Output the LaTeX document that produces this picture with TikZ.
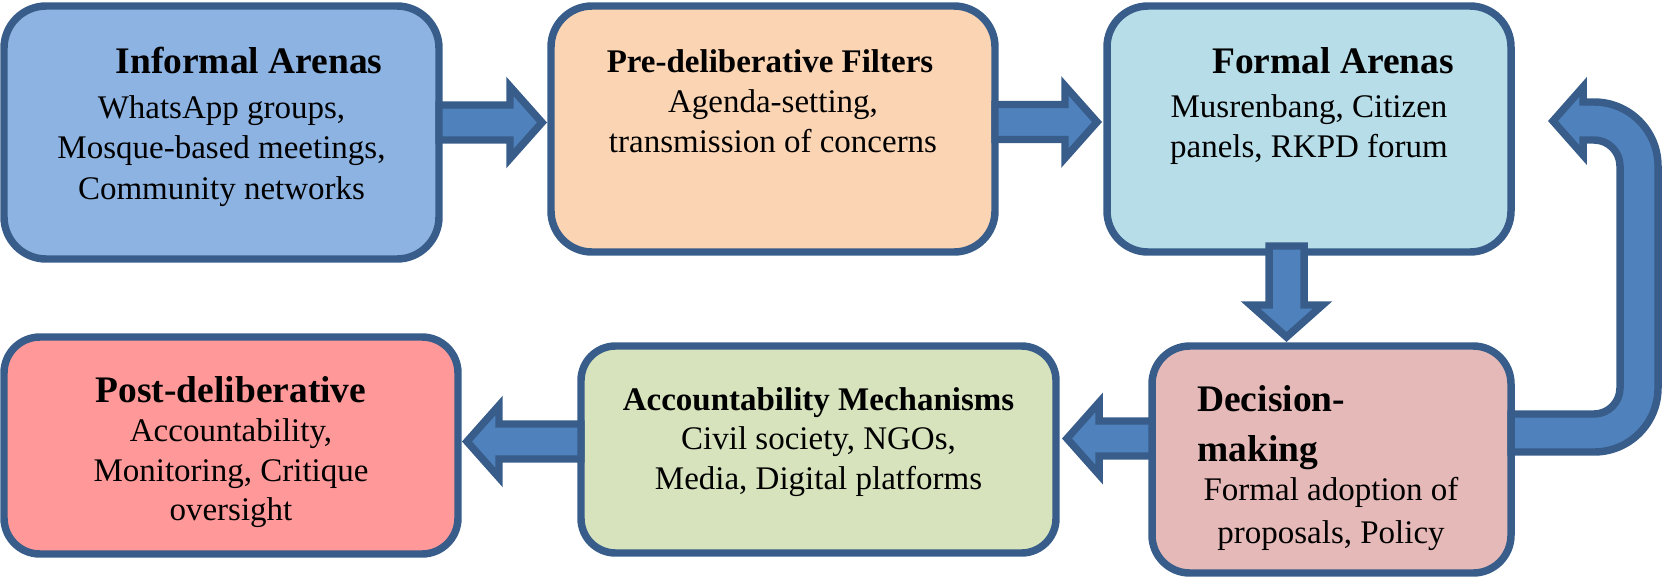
\documentclass[tikz,border=0pt]{standalone}
\usepackage{fontspec}
\setmainfont{Liberation Serif}
\usetikzlibrary{calc}
\definecolor{bordc}{HTML}{385D8A}
\definecolor{arrowc}{HTML}{4F81BD}
\definecolor{cone}{HTML}{8DB3E2}
\definecolor{ctwo}{HTML}{FBD4B4}
\definecolor{cthree}{HTML}{B6DDE8}
\definecolor{cfour}{HTML}{FF9999}
\definecolor{cfive}{HTML}{D7E3BC}
\definecolor{csix}{HTML}{E5B9B7}
\tikzset{
  box/.style={draw=bordc, line width=5.6pt, rectangle, outer sep=0pt, inner sep=0pt},
  barrow/.style={draw=bordc, fill=arrowc, line width=5.6pt, line join=miter},
  ttl/.style={inner sep=0pt, anchor=base, font=\fontsize{28.1pt}{32pt}\selectfont\bfseries},
  ttls/.style={inner sep=0pt, anchor=base, font=\fontsize{24.75pt}{29pt}\selectfont\bfseries},
  bdy/.style={inner sep=0pt, anchor=base, font=\fontsize{24.75pt}{29pt}\selectfont},
}
% horizontal block arrow: #1 start, #2 tip, #3 signed head length offset
\newcommand\blkh[3]{\draw[barrow] ($(#1)+(0,-17.5)$) -- ($(#2)+(#3,-17.5)$) -- ($(#2)+(#3,-36)$) -- (#2) -- ($(#2)+(#3,36)$) -- ($(#2)+(#3,17.5)$) -- ($(#1)+(0,17.5)$) -- cycle;}
% vertical block arrow
\newcommand\blkv[3]{\draw[barrow] ($(#1)+(-17.5,0)$) -- ($(#2)+(-17.5,#3)$) -- ($(#2)+(-36,#3)$) -- (#2) -- ($(#2)+(36,#3)$) -- ($(#2)+(17.5,#3)$) -- ($(#1)+(17.5,0)$) -- cycle;}
\begin{document}
\begin{tikzpicture}[x=0.75pt,y=-0.75pt]
\useasboundingbox (0,0) rectangle (1662,579);
% boxes
\node[box, fill=cone,   minimum width=326.25pt, minimum height=189.75pt, rounded corners=31.6pt] (b1) at (221.5,132.5) {};
\node[box, fill=ctwo,   minimum width=333pt,    minimum height=184.5pt,  rounded corners=30.75pt] (b2) at (773,129) {};
\node[box, fill=cthree, minimum width=303pt,    minimum height=184.5pt,  rounded corners=30.75pt] (b3) at (1309,129) {};
\node[box, fill=cfour,  minimum width=340.5pt,  minimum height=162.75pt, rounded corners=27pt] (b4) at (231,445.5) {};
\node[box, fill=cfive,  minimum width=356.25pt, minimum height=155.25pt, rounded corners=25.9pt] (b5) at (818.5,449.5) {};
\node[box, fill=csix,   minimum width=269.25pt, minimum height=170.25pt, rounded corners=28.4pt] (b6) at (1331.5,459.5) {};
% arrow anchor points
\coordinate (a1s) at ($(b1.east)+(0,-10)$);
\coordinate (a1t) at ($(b2.west)+(-9,-6.5)$);
\coordinate (a2s) at ($(b2.east)+(0,-7)$);
\coordinate (a2t) at ($(b3.west)+(-10,-7)$);
\coordinate (a3s) at ($(b3.south)+(-22.5,-6)$);
\coordinate (a3t) at ($(b6.north)+(-45,-9)$);
\coordinate (a4s) at ($(b6.west)+(0,-21)$);
\coordinate (a4t) at ($(b5.east)+(11,-11)$);
\coordinate (a5s) at ($(b5.west)+(0,-8)$);
\coordinate (a5t) at ($(b4.east)+(9,-4)$);
\coordinate (cs) at ($(b6.east)+(0,-26.5)$);
\coordinate (ct) at ($(b3.east)+(42,-8)$);
% arrows
\blkh{a1s}{a1t}{-32}
\blkh{a2s}{a2t}{-32}
\blkv{a3s}{a3t}{-32}
\blkh{a4s}{a4t}{32}
\blkh{a5s}{a5t}{32}
\draw[barrow] ($(cs)+(0,-19)$) -- ($(cs)+(83,-19)$) arc[start angle=90, end angle=0, radius=26]
  -- ($(ct)+(67,45)$) arc[start angle=0, end angle=-90, radius=26]
  -- ($(ct)+(30,19)$) -- ($(ct)+(30,34)$) -- (ct) -- ($(ct)+(30,-34)$) -- ($(ct)+(30,-19)$)
  -- ($(ct)+(41,-19)$) arc[start angle=-90, end angle=0, radius=64]
  -- ($(cs)+(147,-45)$) arc[start angle=0, end angle=90, radius=64]
  -- ($(cs)+(0,19)$) -- cycle;
% texts
\node[ttl] (t11) at (249,73) {Informal Arenas};
\node[bdy] (t12) at (221.5,118) {WhatsApp groups,};
\node[bdy] (t13) at (221.5,158) {Mosque-based meetings,};
\node[bdy] (t14) at (221.5,199) {Community networks};
\node[ttls] (t21) at (770,72) {Pre-deliberative Filters};
\node[bdy] (t22) at (773,112) {Agenda-setting,};
\node[bdy] (t23) at (773,152) {transmission of concerns};
\node[ttl] (t31) at (1333,73) {Formal Arenas};
\node[bdy] (t32) at (1309,117) {Musrenbang, Citizen};
\node[bdy] (t33) at (1309,157) {panels, RKPD forum};
\node[ttl] (t41) at (231,402) {Post-deliberative};
\node[bdy] (t42) at (231,441) {Accountability,};
\node[bdy] (t43) at (231,481) {Monitoring, Critique};
\node[bdy] (t44) at (231,520) {oversight};
\node[ttls] (t51) at (818.5,410) {Accountability Mechanisms};
\node[bdy] (t52) at (818.5,449) {Civil society, NGOs,};
\node[bdy] (t53) at (818.5,489) {Media, Digital platforms};
\node[ttl, anchor=base west] (t61) at (1197,411) {Decision-};
\node[ttl, anchor=base west] (t62) at (1197,461) {making};
\node[bdy] (t63) at (1331,500) {Formal adoption of};
\node[bdy] (t64) at (1331,543) {proposals, Policy};
\end{tikzpicture}
\end{document}
